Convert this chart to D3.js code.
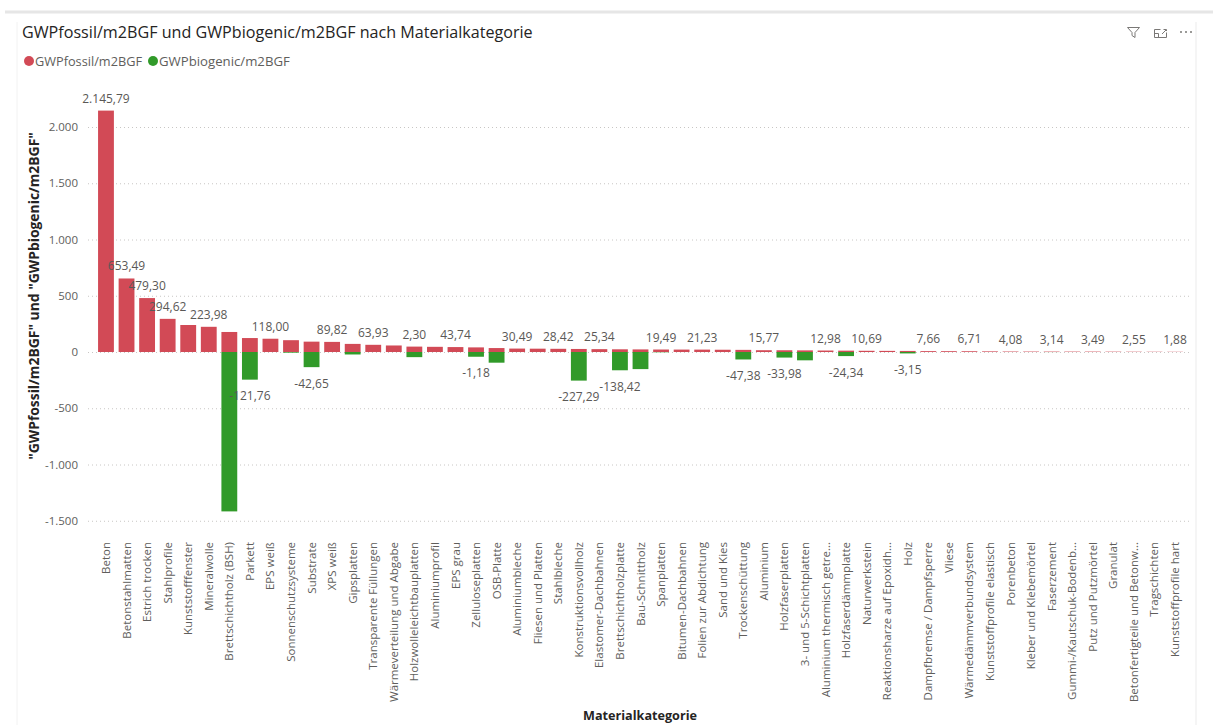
<!DOCTYPE html>
<html>
<head>
<meta charset="utf-8">
<script src="https://cdn.jsdelivr.net/npm/d3@7"></script>
<style>
  html, body { margin: 0; padding: 0; background: #ffffff; }
  svg { display: block; font-family: "Open Sans", "Noto Sans", sans-serif; }
</style>
</head>
<body>
<svg id="chart" width="1213" height="725"></svg>
<script>
// ---------------- data ----------------
const categories = [
  "Beton", "Betonstahlmatten", "Estrich trocken", "Stahlprofile", "Kunststofffenster",
  "Mineralwolle", "Brettschichtholz (BSH)", "Parkett", "EPS weiß", "Sonnenschutzsysteme",
  "Substrate", "XPS weiß", "Gipsplatten", "Transparente Füllungen", "Wärmeverteilung und Abgabe",
  "Holzwolleleichtbauplatten", "Aluminiumprofil", "EPS grau", "Zelluloseplatten", "OSB-Platte",
  "Aluminiumbleche", "Fliesen und Platten", "Stahlbleche", "Konstruktionsvollholz", "Elastomer-Dachbahnen",
  "Brettschichtholzplatte", "Bau-Schnittholz", "Spanplatten", "Bitumen-Dachbahnen", "Folien zur Abdichtung",
  "Sand und Kies", "Trockenschüttung", "Aluminium", "Holzfaserplatten", "3- und 5-Schichtplatten",
  "Aluminium thermisch getre...", "Holzfaserdämmplatte", "Naturwerkstein", "Reaktionsharze auf Epoxidh...", "Holz",
  "Dampfbremse / Dampfsperre", "Vliese", "Wärmedämmverbundsystem", "Kunststoffprofile elastisch", "Porenbeton",
  "Kleber und Klebemörtel", "Faserzement", "Gummi-/Kautschuk-Bodenb...", "Putz und Putzmörtel", "Granulat",
  "Betonfertigteile und Betonw...", "Tragschichten", "Kunststoffprofile hart"
];

const gwpFossil = [
  2145.79, 653.49, 479.30, 294.62, 240,
  223.98, 178, 124, 118.00, 105,
  92, 89.82, 72, 63.93, 58,
  48, 46, 43.74, 41, 35,
  30.49, 29.5, 28.42, 27, 25.34,
  24, 23, 22, 21.5, 21.23,
  20, 19, 15.77, 15.5, 14.5,
  12.98, 12, 10.69, 10, 9.5,
  7.66, 7.2, 6.71, 5.5, 4.08,
  3.8, 3.6, 3.5, 3.49, 3.0,
  2.55, 2.2, 1.88
];

const gwpBiogenic = [
  0, 0, 0, 0, 0,
  0, -1416.85, -245.76, 0, -6,
  -134.65, 0, -22, 0, 0,
  -45.70, 0, 0, -42.18, -95,
  0, 0, 0, -254.29, 0,
  -162.42, -152, -2.51, 0, 0,
  0, -66.38, 0, -49.48, -74,
  0, -36.34, 0, 0, -12.65,
  0, 0, 0, 0, 0,
  0, -0.46, 0, 0, 0,
  0, 0, 0
];

// categories whose total label is visible (others hidden by overlap in the original)
const labeledCategories = [
  "Beton", "Betonstahlmatten", "Estrich trocken", "Stahlprofile", "Mineralwolle",
  "Parkett", "EPS weiß", "Substrate", "XPS weiß", "Transparente Füllungen",
  "Holzwolleleichtbauplatten", "EPS grau", "Zelluloseplatten", "Aluminiumbleche", "Stahlbleche",
  "Konstruktionsvollholz", "Elastomer-Dachbahnen", "Brettschichtholzplatte", "Spanplatten", "Folien zur Abdichtung",
  "Trockenschüttung", "Aluminium", "Holzfaserplatten", "Aluminium thermisch getre...", "Holzfaserdämmplatte",
  "Naturwerkstein", "Holz", "Dampfbremse / Dampfsperre", "Wärmedämmverbundsystem", "Porenbeton",
  "Faserzement", "Putz und Putzmörtel", "Betonfertigteile und Betonw...", "Kunststoffprofile hart"
];

const yTicks = [-1500, -1000, -500, 0, 500, 1000, 1500, 2000];

const seriesNames = ["GWPfossil/m2BGF", "GWPbiogenic/m2BGF"];
const titleText = "GWPfossil/m2BGF und GWPbiogenic/m2BGF nach Materialkategorie";
const yTitleText = "\"GWPfossil/m2BGF\" und \"GWPbiogenic/m2BGF\"";
const xTitleText = "Materialkategorie";

// ---------------- styling ----------------
const RED = "#D24A56";
const GREEN = "#319A29";
const TXT = "#605E5C";
const DARK = "#252423";

const de = d3.formatLocale({decimal: ",", thousands: ".", grouping: [3], currency: ["", " €"], minus: "-"});
const fmtTick = de.format(",.0f");
const fmtVal = de.format(",.2f");

const svg = d3.select("#chart");

function fitWidth(sel, target) {
  const n = sel.node();
  const fs = parseFloat(sel.attr("font-size"));
  const w = n.getComputedTextLength();
  if (w > 0) sel.attr("font-size", (fs * target / w).toFixed(2));
}

// page chrome
svg.append("line").attr("x1", 5).attr("x2", 1213).attr("y1", 12).attr("y2", 12)
  .attr("stroke", "#E6E6E6").attr("stroke-width", 3);
svg.append("line").attr("x1", 1196).attr("x2", 1196).attr("y1", 22).attr("y2", 725)
  .attr("stroke", "#EBEBEB").attr("stroke-width", 1);
svg.append("line").attr("x1", 17).attr("x2", 17).attr("y1", 22).attr("y2", 725)
  .attr("stroke", "#F2F2F2").attr("stroke-width", 1);

// header icons
const ic = svg.append("g").attr("fill", "none").attr("stroke", "#7A7876").attr("stroke-width", 1);
ic.append("path").attr("d", "M1127.5,27.5 L1139.5,27.5 L1135,32.5 L1135,37.5 L1132,35.5 L1132,32.5 Z");
ic.append("path").attr("d", "M1154.5,29.5 L1154.5,37.5 L1166.5,37.5 L1166.5,32.5 M1160.5,29.5 L1154.5,29.5 M1154.5,33.5 L1158.5,33.5 L1158.5,37.5 M1162,34 L1166,30 M1163.5,29.5 L1166.5,29.5 L1166.5,31");
[1181, 1186, 1191].forEach(cx => svg.append("circle").attr("cx", cx).attr("cy", 32).attr("r", 1).attr("fill", "#7A7876"));

// title
const title = svg.append("text").attr("x", 22).attr("y", 38).attr("font-size", 16)
  .attr("fill", DARK).text(titleText);
fitWidth(title, 511);

// legend
const legendItems = [
  {name: seriesNames[0], color: RED, cx: 29, tx: 35, w: 107},
  {name: seriesNames[1], color: GREEN, cx: 153, tx: 159, w: 131}
];
legendItems.forEach(d => {
  svg.append("circle").attr("cx", d.cx).attr("cy", 61).attr("r", 5).attr("fill", d.color);
  const t = svg.append("text").attr("x", d.tx).attr("y", 65.5).attr("font-size", 13)
    .attr("fill", TXT).text(d.name);
  fitWidth(t, d.w);
});

// scales
const x = d3.scaleBand().domain(categories).range([95.7, 1185.3]).paddingInner(0.23).paddingOuter(0.115);
const y = d3.scaleLinear().domain([-1500, 2000]).range([520.75, 127]);

// gridlines + y axis
const yAxis = d3.axisLeft(y).tickValues(yTicks).tickFormat(fmtTick).tickSize(-(1190 - 88)).tickPadding(10);
const gy = svg.append("g").attr("transform", "translate(88,0)").call(yAxis);
gy.select(".domain").remove();
gy.selectAll(".tick line").attr("stroke", "#C8C6C4").attr("stroke-dasharray", "1,3").attr("stroke-width", 1);
gy.selectAll(".tick text").attr("fill", TXT).attr("font-size", 11.5)
  .attr("font-family", "'Open Sans', sans-serif");

// bars
const rows = categories.map((c, i) => ({cat: c, f: gwpFossil[i], b: gwpBiogenic[i]}));
const gb = svg.append("g");
gb.selectAll("rect.fossil").data(rows).join("rect").attr("class", "fossil")
  .attr("x", d => x(d.cat)).attr("width", x.bandwidth())
  .attr("y", d => y(Math.max(0, d.f))).attr("height", d => Math.abs(y(d.f) - y(0)))
  .attr("fill", RED);
gb.selectAll("rect.bio").data(rows.filter(d => d.b < 0)).join("rect").attr("class", "bio")
  .attr("x", d => x(d.cat)).attr("width", x.bandwidth())
  .attr("y", y(0)).attr("height", d => y(d.b) - y(0))
  .attr("fill", GREEN);

// total labels
const gl = svg.append("g").attr("font-size", 12).attr("fill", "#5A5856").attr("text-anchor", "middle");
rows.filter(d => labeledCategories.includes(d.cat)).forEach(d => {
  const total = d.f + d.b;
  const cx = x(d.cat) + x.bandwidth() / 2;
  const yy = total >= 0 ? y(d.f) - 8 : y(d.b) + 20.5;
  gl.append("text").attr("x", cx).attr("y", yy).text(fmtVal(total));
});

// x axis labels
const xAxis = d3.axisBottom(x).tickSize(0).tickPadding(0);
const gx = svg.append("g").attr("transform", "translate(0,542)").call(xAxis);
gx.select(".domain").remove();
gx.selectAll(".tick text")
  .attr("transform", "rotate(-90)")
  .attr("text-anchor", "end")
  .attr("x", 0).attr("y", 0).attr("dy", "0.35em")
  .attr("fill", TXT).attr("font-size", 11.5)
  .attr("font-family", "'Open Sans', sans-serif");

// axis titles
const yt = svg.append("text").attr("transform", "translate(33,296) rotate(-90)")
  .attr("text-anchor", "middle").attr("dominant-baseline", "central")
  .attr("font-size", 14).attr("font-weight", "bold").attr("fill", DARK).text(yTitleText);
fitWidth(yt, 328);

const xt = svg.append("text").attr("x", 640).attr("y", 720).attr("text-anchor", "middle")
  .attr("font-size", 14).attr("font-weight", "bold").attr("fill", DARK).text(xTitleText);
fitWidth(xt, 114);
</script>
</body>
</html>
